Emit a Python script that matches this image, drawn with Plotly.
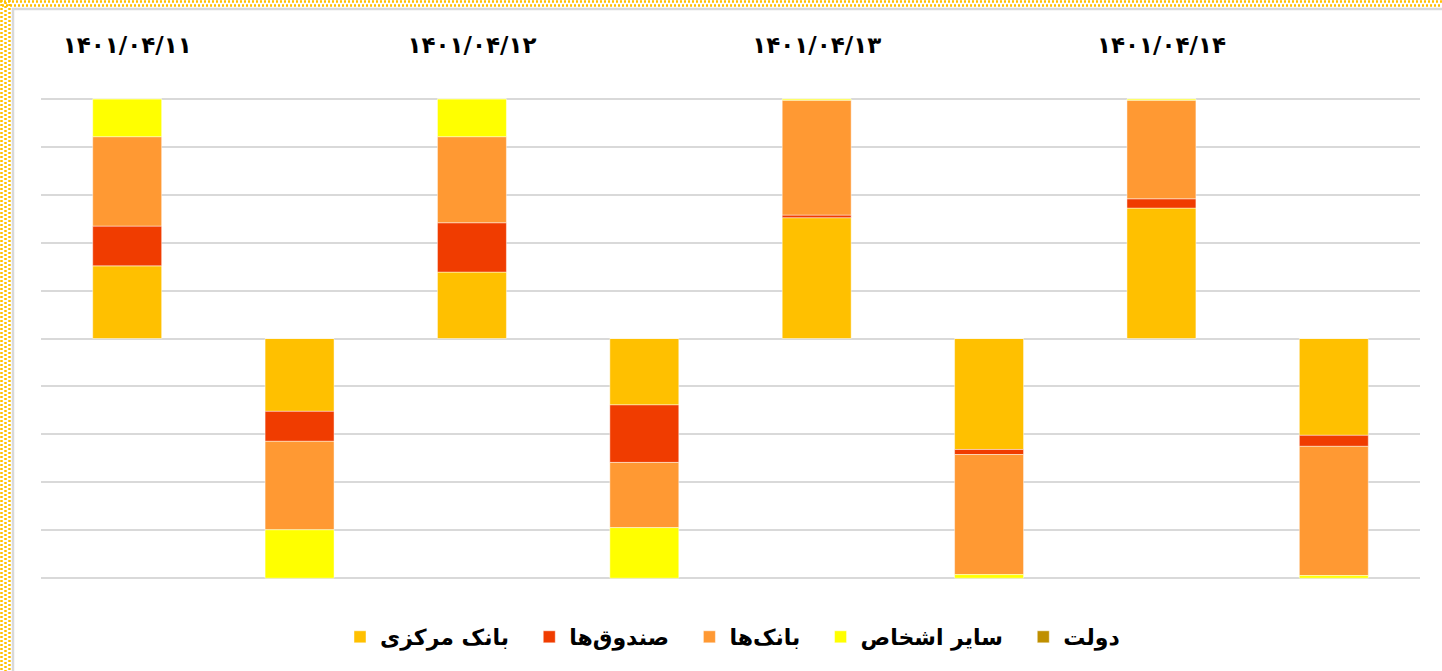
import plotly.graph_objects as go

# ---- data (percent shares; positive = first bar of each day, negative = second) ----
dates = ["۱۴۰۱/۰۴/۱۱", "۱۴۰۱/۰۴/۱۲", "۱۴۰۱/۰۴/۱۳", "۱۴۰۱/۰۴/۱۴"]
x_pos = [1, 2, 3, 4, 5, 6, 7, 8]
date_tick_pos = [1, 3, 5, 7]

series_names = ["بانک مرکزی", "صندوق‌ها", "بانک‌ها", "سایر اشخاص", "دولت"]
series_colors = ["#FFC000", "#F03C00", "#FF9933", "#FFFF00", "#BF8F00"]

central_bank = [30.3, -30.4, 27.7, -27.7, 50.4, -46.3, 54.4, -40.4]
funds        = [16.6, -12.5, 20.6, -24.0, 1.1, -2.1, 3.9, -4.6]
banks        = [37.3, -36.9, 35.9, -27.2, 47.9, -50.1, 41.1, -53.9]
others       = [15.8, -20.2, 15.8, -21.1, 0.6, -1.5, 0.6, -1.1]
government   = [0, 0, 0, 0, 0, 0, 0, 0]

series_values = [central_bank, funds, banks, others, government]

# ---- layout geometry ----
W, H = 1442, 671
ML, MR, MT, MB = 41, 22, 94, 88
PW = W - ML - MR
PH = H - MT - MB


def px_x(p):
    return (p - ML) / PW


def px_y(p):
    return (H - MB - p) / PH


FONT = "DejaVu Sans"
PAD = "\u00a0\u00a0"

fig = go.Figure()
for name, color, vals in zip(series_names, series_colors, series_values):
    fig.add_trace(go.Bar(
        x=x_pos, y=vals, name=name + PAD,
        marker=dict(color=color, line=dict(color="rgba(255,255,255,0.45)", width=1)),
        hoverinfo="skip",
    ))

# decorative frame: dotted golden strip + light gray rule (top and left)
shapes = []
for yy, off in ((1.5, 0), (5.5, 2)):
    shapes.append(dict(type="line", xref="paper", yref="paper",
                       x0=px_x(off), x1=px_x(W), y0=px_y(yy), y1=px_y(yy),
                       line=dict(color="#FFC000", width=2.5, dash="2px,2px")))
for xx, off in ((1.5, 0), (5.5, 2), (9.5, 0)):
    shapes.append(dict(type="line", xref="paper", yref="paper",
                       x0=px_x(xx), x1=px_x(xx), y0=px_y(off), y1=px_y(H),
                       line=dict(color="#FFC000", width=2.5, dash="2px,2px")))
shapes.append(dict(type="line", xref="paper", yref="paper",
                   x0=px_x(12), x1=px_x(W), y0=px_y(9), y1=px_y(9),
                   line=dict(color="#D9D9D9", width=2.5)))
shapes.append(dict(type="line", xref="paper", yref="paper",
                   x0=px_x(13), x1=px_x(13), y0=px_y(8), y1=px_y(H),
                   line=dict(color="#D9D9D9", width=2.5)))

fig.update_layout(
    width=W, height=H,
    margin=dict(l=ML, r=MR, t=MT, b=MB, autoexpand=False),
    barmode="relative",
    bargap=0.6,
    paper_bgcolor="white",
    plot_bgcolor="white",
    font=dict(family=FONT, color="black"),
    shapes=shapes,
    legend=dict(
        orientation="h",
        x=0.5 + 10 / PW, xanchor="center",
        y=px_y(637), yanchor="middle",
        font=dict(family=FONT, size=22, color="black", weight="bold"),
        itemclick=False, itemdoubleclick=False,
        traceorder="normal",
    ),
    xaxis=dict(
        range=[0.5, 8.5],
        side="top",
        tickmode="array",
        tickvals=date_tick_pos,
        ticktext=dates,
        tickfont=dict(family=FONT, size=23, color="black", weight="bold"),
        ticks="",
        ticklabelstandoff=35,
        showgrid=False,
        zeroline=False,
        showline=False,
    ),
    yaxis=dict(
        range=[-102, 102],
        tickmode="linear",
        tick0=0,
        dtick=20,
        showticklabels=False,
        ticks="",
        showgrid=True,
        gridcolor="#D9D9D9",
        gridwidth=2,
        zeroline=True,
        zerolinecolor="#D9D9D9",
        zerolinewidth=2,
        showline=False,
    ),
    showlegend=True,
)

fig.write_html(
    "out.html",
    config={"displayModeBar": False},
    post_script="document.body.style.margin='0';document.body.style.overflow='hidden';",
)
